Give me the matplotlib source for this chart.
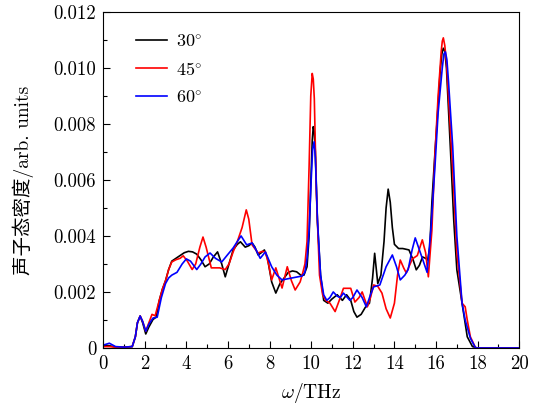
import matplotlib
matplotlib.use("Agg")
import matplotlib.pyplot as plt
from matplotlib.ticker import MultipleLocator

# phonon DOS, values in units of 1e-3
freq_30 = [0, 0.3, 0.6, 1.0, 1.4, 1.55, 1.65, 1.78, 1.9, 2.05,
           2.2, 2.4, 2.55, 2.7, 2.85, 3.0, 3.15, 3.3, 3.5, 3.7,
           3.9, 4.1, 4.3, 4.5, 4.7, 4.9, 5.1, 5.3, 5.5, 5.7,
           5.87, 6.05, 6.25, 6.45, 6.6, 6.83, 7.0, 7.16, 7.3, 7.45,
           7.6, 7.75, 7.9, 8.1, 8.3, 8.5, 8.7, 8.9, 9.1, 9.3,
           9.5, 9.65, 9.8, 9.9, 10.0, 10.05, 10.1, 10.15, 10.2, 10.3, 10.45, 10.6,
           10.8, 11.0, 11.25, 11.5, 11.7, 11.9, 12.05, 12.2, 12.4, 12.6,
           12.8, 12.95, 13.05, 13.2, 13.35, 13.5, 13.6, 13.7, 13.8, 13.9,
           14.0, 14.2, 14.4, 14.7, 14.9, 15.05, 15.2, 15.35, 15.5, 15.6,
           15.7, 15.8, 15.95, 16.05, 16.2, 16.28, 16.35, 16.42, 16.5, 16.7, 16.85, 17.0,
           17.25, 17.5, 17.75, 18.0, 20.0]
dos_30 = [0.1, 0.08, 0.03, 0.03, 0.05, 0.4, 0.9, 1.14, 0.9, 0.5,
          0.75, 1.02, 1.1, 1.7, 2.1, 2.4, 2.8, 3.1, 3.2, 3.3,
          3.4, 3.45, 3.43, 3.35, 3.15, 2.9, 3.0, 3.25, 3.43, 3.0,
          2.54, 3.0, 3.5, 3.7, 3.79, 3.6, 3.65, 3.75, 3.6, 3.32,
          3.4, 3.5, 3.2, 2.36, 1.96, 2.3, 2.5, 2.7, 2.75, 2.72,
          2.6, 2.6, 2.9, 4.0, 6.3, 7.4, 7.9, 7.7, 7.0, 4.5, 2.6, 1.7,
          1.6, 1.75, 1.9, 1.7, 1.9, 1.7, 1.3, 1.1, 1.2, 1.45,
          1.6, 2.5, 3.38, 2.3, 2.6, 3.8, 5.0, 5.67, 5.2, 4.3,
          3.7, 3.55, 3.55, 3.5, 3.14, 2.79, 2.95, 3.25, 3.2, 3.14,
          3.6, 5.2, 7.0, 8.1, 9.9, 10.5, 10.7, 10.6, 10.0, 6.96, 4.57, 2.79,
          1.6, 0.4, 0.05, 0.0, 0.0]

freq_45 = [0, 0.3, 0.6, 1.0, 1.4, 1.55, 1.65, 1.78, 1.9, 2.05,
           2.2, 2.35, 2.5, 2.7, 2.85, 3.0, 3.15, 3.3, 3.5, 3.7,
           3.85, 4.05, 4.28, 4.45, 4.65, 4.8, 4.95, 5.2, 5.6, 5.87,
           6.05, 6.25, 6.45, 6.68, 6.88, 7.0, 7.16, 7.45, 7.65, 7.8,
           7.95, 8.1, 8.3, 8.45, 8.6, 8.85, 9.05, 9.23, 9.47, 9.6,
           9.7, 9.8, 9.9, 9.98, 10.05, 10.1, 10.15, 10.25, 10.4, 10.55, 10.7, 10.9,
           11.15, 11.35, 11.55, 11.9, 12.1, 12.3, 12.45, 12.7, 12.85, 13.0,
           13.2, 13.4, 13.6, 13.8, 14.0, 14.15, 14.28, 14.45, 14.57, 14.86,
           15.1, 15.34, 15.5, 15.63, 15.8, 15.95, 16.1, 16.25, 16.3, 16.35, 16.42, 16.5,
           16.65, 16.8, 17.0, 17.25, 17.4, 17.5, 17.65, 17.9, 20.0]
dos_45 = [0.05, 0.05, 0.03, 0.03, 0.05, 0.4, 0.9, 1.14, 0.95, 0.6,
          0.9, 1.2, 1.15, 1.7, 2.1, 2.4, 2.8, 3.07, 3.15, 3.2,
          3.29, 3.1, 2.8, 3.0, 3.6, 3.96, 3.6, 2.86, 2.86, 2.8,
          3.0, 3.43, 3.8, 4.3, 4.93, 4.6, 3.68, 3.39, 3.45, 3.43,
          3.0, 2.43, 2.86, 2.5, 2.14, 2.9, 2.4, 2.07, 2.36, 2.7,
          3.0, 3.8, 6.5, 9.0, 9.8, 9.6, 8.9, 5.5, 2.6, 1.9, 1.7, 1.6,
          1.3, 1.7, 2.13, 2.13, 1.64, 1.8, 2.0, 1.47, 1.8, 2.25,
          2.2, 1.96, 1.4, 1.07, 1.6, 2.6, 3.14, 2.85, 2.68, 3.18,
          3.3, 3.86, 3.4, 2.54, 4.2, 6.96, 9.0, 10.6, 10.95, 11.07, 10.8, 10.2,
          8.3, 6.36, 3.4, 1.6, 1.47, 1.0, 0.4, 0.0, 0.0]

freq_60 = [0, 0.3, 0.6, 1.0, 1.4, 1.55, 1.65, 1.78, 1.9, 2.05,
           2.2, 2.4, 2.6, 2.8, 3.0, 3.15, 3.3, 3.55, 3.8, 4.0,
           4.2, 4.5, 4.7, 4.9, 5.14, 5.4, 5.7, 5.95, 6.25, 6.45,
           6.63, 6.9, 7.16, 7.35, 7.55, 7.8, 8.1, 8.35, 8.6, 9.08,
           9.57, 9.7, 9.8, 9.9, 10.0, 10.07, 10.14, 10.2, 10.3, 10.45, 10.6,
           10.75, 10.9, 11.06, 11.25, 11.4, 11.55, 11.86, 12.0, 12.2, 12.45,
           12.65, 12.85, 13.0, 13.3, 13.6, 13.9, 14.1, 14.28, 14.5, 14.66,
           14.85, 15.0, 15.2, 15.34, 15.57, 15.75, 15.95, 16.1, 16.3, 16.38, 16.45, 16.52,
           16.6, 16.8, 17.0, 17.25, 17.4, 17.65, 17.9, 20.0]
dos_60 = [0.1, 0.17, 0.05, 0.03, 0.05, 0.4, 0.9, 1.14, 0.95, 0.6,
          0.85, 1.07, 1.1, 1.8, 2.3, 2.5, 2.6, 2.7, 3.0, 3.18,
          3.1, 2.8, 3.0, 3.25, 3.39, 3.2, 3.07, 3.3, 3.57, 3.8,
          4.0, 3.68, 3.75, 3.5, 3.2, 3.43, 2.9, 2.6, 2.43, 2.5,
          2.57, 2.7, 3.2, 4.2, 6.0, 7.1, 7.36, 6.8, 4.6, 2.6, 1.9,
          1.7, 1.8, 2.0, 1.85, 1.8, 1.96, 1.7, 1.8, 2.07, 1.8,
          1.47, 1.9, 2.18, 2.25, 2.9, 3.32, 2.9, 2.43, 2.6, 2.8,
          3.5, 3.93, 3.5, 3.2, 2.7, 4.2, 6.5, 8.4, 10.0, 10.5, 10.57, 10.3,
          9.5, 7.2, 4.0, 1.6, 1.0, 0.35, 0.0, 0.0]

series = [
    (freq_30, dos_30, 'black', r'$30\!^\circ$'),
    (freq_45, dos_45, 'red', r'$45\!^\circ$'),
    (freq_60, dos_60, 'blue', r'$60\!^\circ$'),
]

yticks = [0, 0.002, 0.004, 0.006, 0.008, 0.010, 0.012]
ytick_labels = ['0', '0.002', '0.004', '0.006', '0.008', '0.010', '0.012']
xticks = [0, 2, 4, 6, 8, 10, 12, 14, 16, 18, 20]

plt.rcParams['font.family'] = ['cmr10', 'Noto Sans CJK SC']
plt.rcParams['mathtext.fontset'] = 'cm'
plt.rcParams['axes.unicode_minus'] = False

fig = plt.figure(figsize=(5.37, 4.07), dpi=100)
ax = fig.add_axes([0.192, 0.145, 0.775, 0.826])

for f, d, c, lab in series:
    ax.plot(f, [v * 1e-3 for v in d], color=c, lw=1.2, label=lab)

ax.set_xlim(0, 20)
ax.set_ylim(0, 0.012)
ax.set_xticks(xticks)
ax.set_xticklabels([str(t) for t in xticks])
ax.set_yticks(yticks)
ax.set_yticklabels(ytick_labels)
ax.xaxis.set_minor_locator(MultipleLocator(1))
ax.yaxis.set_minor_locator(MultipleLocator(0.001))
ax.tick_params(which='both', direction='in', top=False, right=False,
               labelsize=13.5, pad=5)
ax.tick_params(which='major', length=5, width=0.8)
ax.tick_params(which='minor', length=3, width=0.8)

ax.set_xlabel(r'$\omega$/THz', fontsize=14, labelpad=6)
ax.set_ylabel('声子态密度/arb. units', fontsize=14, labelpad=14)

ax.legend(loc='upper left', bbox_to_anchor=(0.04, 0.985), frameon=False,
          fontsize=13, handlelength=1.7, labelspacing=0.62, handletextpad=0.5)

fig.savefig('out.png', dpi=100)
